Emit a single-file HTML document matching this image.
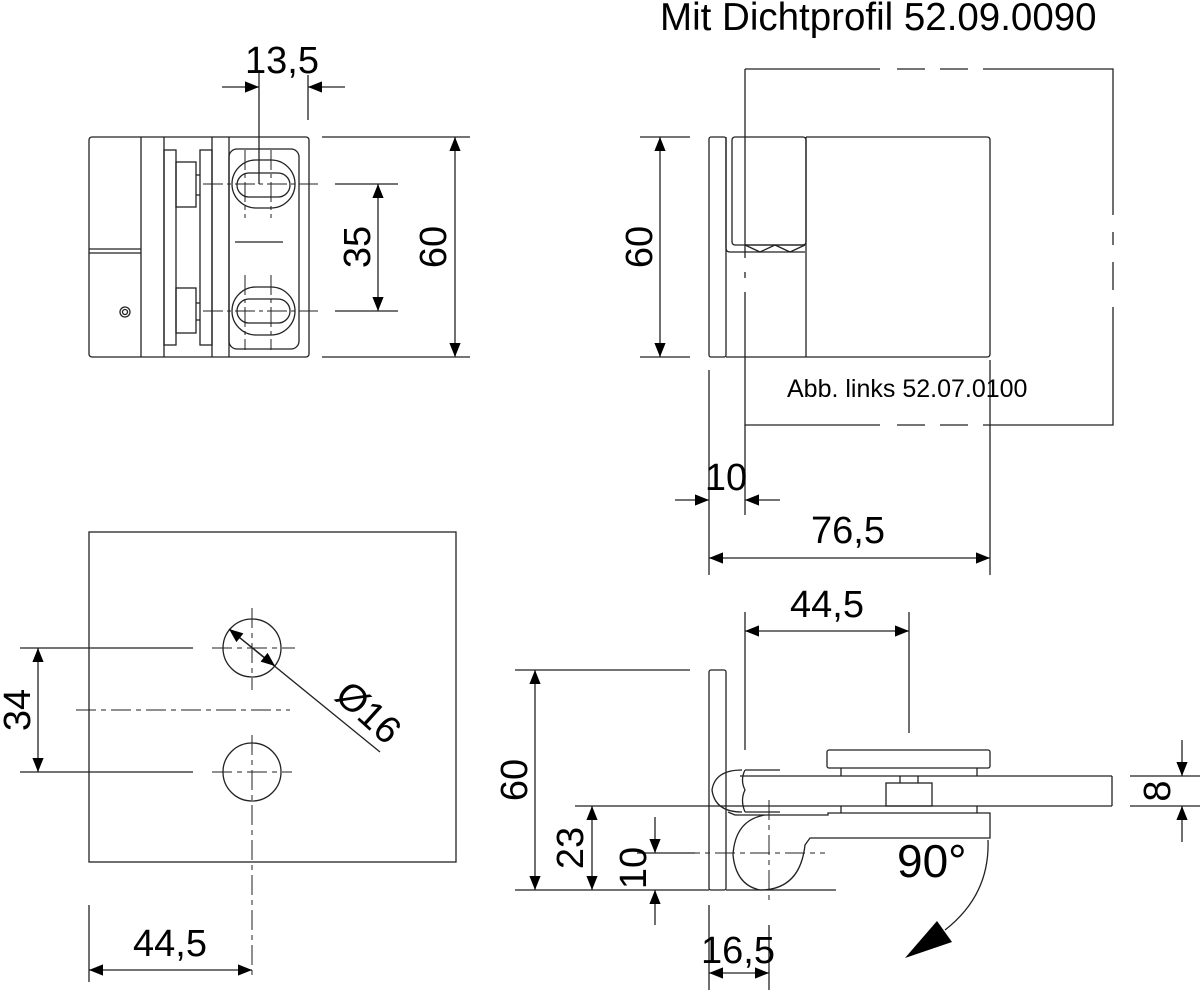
<!DOCTYPE html>
<html><head><meta charset="utf-8"><style>
html,body{margin:0;padding:0;background:#fff}
svg{display:block}
text{font-family:"Liberation Sans",Arial,sans-serif;fill:#000}
</style></head><body>
<svg width="1200" height="993" viewBox="0 0 1200 993" xmlns="http://www.w3.org/2000/svg">
<defs>
<marker id="a" viewBox="0 0 10 10" refX="10" refY="5" markerWidth="22" markerHeight="14" markerUnits="userSpaceOnUse" orient="auto-start-reverse"><path d="M0,1 L10,5 L0,9 Z" fill="#000"/></marker>
</defs>
<g stroke="#222" stroke-width="1.3" fill="none">
<!-- TOP LEFT VIEW -->
<rect x="89" y="137" width="220" height="220" rx="3"/>
<line x1="141" y1="137" x2="141" y2="357"/>
<line x1="164" y1="137" x2="164" y2="357"/>
<line x1="212" y1="137" x2="212" y2="357"/>
<line x1="229" y1="137" x2="229" y2="357"/>
<line x1="89" y1="249" x2="141" y2="249"/>
<line x1="89" y1="253" x2="141" y2="253"/>
<rect x="164" y="150" width="12" height="195"/>
<rect x="176" y="162" width="20" height="45"/>
<rect x="176" y="288" width="20" height="45"/>
<rect x="200" y="150" width="12" height="195"/>
<line x1="196" y1="175" x2="200" y2="175"/><line x1="196" y1="195" x2="200" y2="195"/>
<line x1="196" y1="303" x2="200" y2="303"/><line x1="196" y1="320" x2="200" y2="320"/>
<rect x="229" y="149" width="70" height="200" rx="8"/>
<rect x="232" y="160" width="63" height="48" rx="24"/>
<rect x="237" y="173" width="53" height="24" rx="12"/>
<rect x="232" y="287" width="63" height="48" rx="24"/>
<rect x="237" y="299" width="53" height="24" rx="12"/>
<circle cx="125" cy="312" r="5"/><circle cx="125" cy="312" r="2.5"/>
<line x1="235" y1="242" x2="283" y2="242"/>
<g stroke-dasharray="20,4,4,4" stroke-width="1">
<line x1="245" y1="150" x2="245" y2="218"/><line x1="271" y1="150" x2="271" y2="218"/>
<line x1="245" y1="275" x2="245" y2="350"/><line x1="271" y1="275" x2="271" y2="350"/>
<line x1="203" y1="184" x2="318" y2="184"/>
<line x1="203" y1="311" x2="318" y2="311"/>
</g>
<line x1="322" y1="137" x2="470" y2="137"/>
<line x1="322" y1="357" x2="470" y2="357"/>
<line x1="455" y1="137" x2="455" y2="357" marker-start="url(#a)" marker-end="url(#a)"/>
<line x1="335" y1="184" x2="398" y2="184"/>
<line x1="335" y1="311" x2="398" y2="311"/>
<line x1="378" y1="184" x2="378" y2="311" marker-start="url(#a)" marker-end="url(#a)"/>
<line x1="259" y1="70" x2="259" y2="184"/>
<line x1="308" y1="75" x2="308" y2="120"/>
<line x1="222" y1="87" x2="259" y2="87" marker-end="url(#a)"/>
<line x1="345" y1="87" x2="308" y2="87" marker-end="url(#a)"/>

<!-- TOP RIGHT VIEW -->
<path d="M745,69 H880 M897,69 H925 M940,69 H968 M983,69 H1113 V215 M1113,232 V245 M1113,262 V290 M1113,307 V425 H983 M968,425 H940 M925,425 H897 M880,425 H745 V292 M745,278 V272 M745,258 V69"/>
<rect x="709" y="137" width="17" height="220" rx="2"/>
<path d="M726,137 V248 Q726,252 730,252 H805"/>
<rect x="732" y="137" width="74" height="108" rx="3"/>
<line x1="745" y1="245" x2="805" y2="245"/>
<path d="M745,245 L760,252 L775,245 L790,252 L805,245"/>
<line x1="806" y1="137" x2="806" y2="357"/>
<path d="M806,137 H987 Q990,137 990,140 V354 Q990,357 987,357 H726"/>
<line x1="640" y1="137" x2="690" y2="137"/>
<line x1="640" y1="357" x2="690" y2="357"/>
<line x1="660" y1="137" x2="660" y2="357" marker-start="url(#a)" marker-end="url(#a)"/>
<line x1="709" y1="370" x2="709" y2="575"/>
<line x1="745" y1="425" x2="745" y2="515"/>
<line x1="990" y1="360" x2="990" y2="575"/>
<line x1="675" y1="500" x2="709" y2="500" marker-end="url(#a)"/>
<line x1="780" y1="500" x2="745" y2="500" marker-end="url(#a)"/>
<line x1="709" y1="558" x2="990" y2="558" marker-start="url(#a)" marker-end="url(#a)"/>

<!-- BOTTOM LEFT VIEW -->
<rect x="89" y="532" width="367" height="330"/>
<circle cx="252" cy="648" r="29"/>
<circle cx="252" cy="772" r="29"/>
<g stroke-dasharray="20,5,5,5" stroke-width="1">
<line x1="252" y1="608" x2="252" y2="690"/>
<line x1="252" y1="735" x2="252" y2="980"/>
<line x1="212" y1="648" x2="295" y2="648"/>
<line x1="212" y1="772" x2="292" y2="772"/>
<line x1="76" y1="710" x2="290" y2="710"/>
</g>
<line x1="20" y1="648" x2="193" y2="648"/>
<line x1="20" y1="772" x2="193" y2="772"/>
<line x1="38" y1="648" x2="38" y2="772" marker-start="url(#a)" marker-end="url(#a)"/>
<line x1="229" y1="629" x2="380" y2="752"/>
<line x1="229" y1="629" x2="275" y2="666" marker-start="url(#a)" marker-end="url(#a)"/>
<line x1="89" y1="905" x2="89" y2="982"/>
<line x1="89" y1="970" x2="252" y2="970" marker-start="url(#a)" marker-end="url(#a)"/>

<!-- BOTTOM RIGHT VIEW -->
<rect x="709" y="670" width="17" height="220" rx="2"/>
<line x1="726" y1="890" x2="836" y2="890"/>
<line x1="740" y1="776" x2="1112" y2="776"/>
<line x1="740" y1="806" x2="1112" y2="806"/>
<line x1="1112" y1="776" x2="1112" y2="806"/>
<line x1="575" y1="806" x2="740" y2="806"/>
<path d="M742,770 Q715,770 712,790 Q715,812 742,812"/>
<path d="M745,770 H780 M745,812 H780 M745,770 Q740,780 745,790 Q740,800 745,812"/>
<rect x="827" y="750" width="163" height="18" rx="2"/>
<line x1="841" y1="768" x2="841" y2="776"/><line x1="977" y1="768" x2="977" y2="776"/>
<rect x="886" y="783" width="46" height="23"/>
<line x1="900" y1="776" x2="900" y2="783"/><line x1="918" y1="776" x2="918" y2="783"/>
<path d="M728,812 L735,815 H828 V813 H990 V838 H810 L805,845 Q800,890 760,890 Q736,885 733,855 Q735,820 765,815"/>
<line x1="841" y1="806" x2="841" y2="813"/><line x1="977" y1="806" x2="977" y2="813"/>
<g stroke-dasharray="20,5,5,5" stroke-width="1">
<line x1="769" y1="800" x2="769" y2="905"/>
<line x1="680" y1="853" x2="825" y2="853"/>
</g>
<line x1="769" y1="925" x2="769" y2="990"/>
<line x1="745" y1="612" x2="745" y2="750"/>
<line x1="909" y1="612" x2="909" y2="733"/>
<line x1="745" y1="631" x2="909" y2="631" marker-start="url(#a)" marker-end="url(#a)"/>
<line x1="515" y1="670" x2="690" y2="670"/>
<line x1="515" y1="890" x2="709" y2="890"/>
<line x1="535" y1="670" x2="535" y2="890" marker-start="url(#a)" marker-end="url(#a)"/>
<line x1="592" y1="806" x2="592" y2="890" marker-start="url(#a)" marker-end="url(#a)"/>
<line x1="637" y1="853" x2="695" y2="853"/>
<line x1="655" y1="817" x2="655" y2="853" marker-end="url(#a)"/>
<line x1="655" y1="925" x2="655" y2="890" marker-end="url(#a)"/>
<line x1="709" y1="905" x2="709" y2="990"/>
<line x1="709" y1="973" x2="769" y2="973" marker-start="url(#a)" marker-end="url(#a)"/>
<line x1="1130" y1="776" x2="1200" y2="776"/>
<line x1="1130" y1="806" x2="1200" y2="806"/>
<line x1="1182" y1="740" x2="1182" y2="776" marker-end="url(#a)"/>
<line x1="1182" y1="842" x2="1182" y2="806" marker-end="url(#a)"/>
<path d="M988,840 Q990,895 945,930"/>
</g>
<polygon points="905,958 937,921 952,942" fill="#000"/>
<g font-size="38">
<text x="660" y="30" font-size="38.5">Mit Dichtprofil 52.09.0090</text>
<text x="282" y="73" text-anchor="middle">13,5</text>
<text x="370" y="247" transform="rotate(-90 370 247)" text-anchor="middle">35</text>
<text x="446" y="247" transform="rotate(-90 446 247)" text-anchor="middle">60</text>
<text x="652" y="247" transform="rotate(-90 652 247)" text-anchor="middle">60</text>
<text x="787" y="397" font-size="25">Abb. links 52.07.0100</text>
<text x="726" y="490" text-anchor="middle">10</text>
<text x="848" y="543" text-anchor="middle">76,5</text>
<text x="827" y="617" text-anchor="middle">44,5</text>
<text x="30" y="710" transform="rotate(-90 30 710)" text-anchor="middle">34</text>
<text x="360" y="722" transform="rotate(42 360 722)" text-anchor="middle">Ø16</text>
<text x="170" y="956" text-anchor="middle">44,5</text>
<text x="527" y="780" transform="rotate(-90 527 780)" text-anchor="middle">60</text>
<text x="583" y="848" transform="rotate(-90 583 848)" text-anchor="middle">23</text>
<text x="646" y="868" transform="rotate(-90 646 868)" text-anchor="middle">10</text>
<text x="1170" y="791" transform="rotate(-90 1170 791)" text-anchor="middle">8</text>
<text x="738" y="963" text-anchor="middle">16,5</text>
<text x="897" y="877" font-size="46">90°</text>
</g>
</svg>
</body></html>
